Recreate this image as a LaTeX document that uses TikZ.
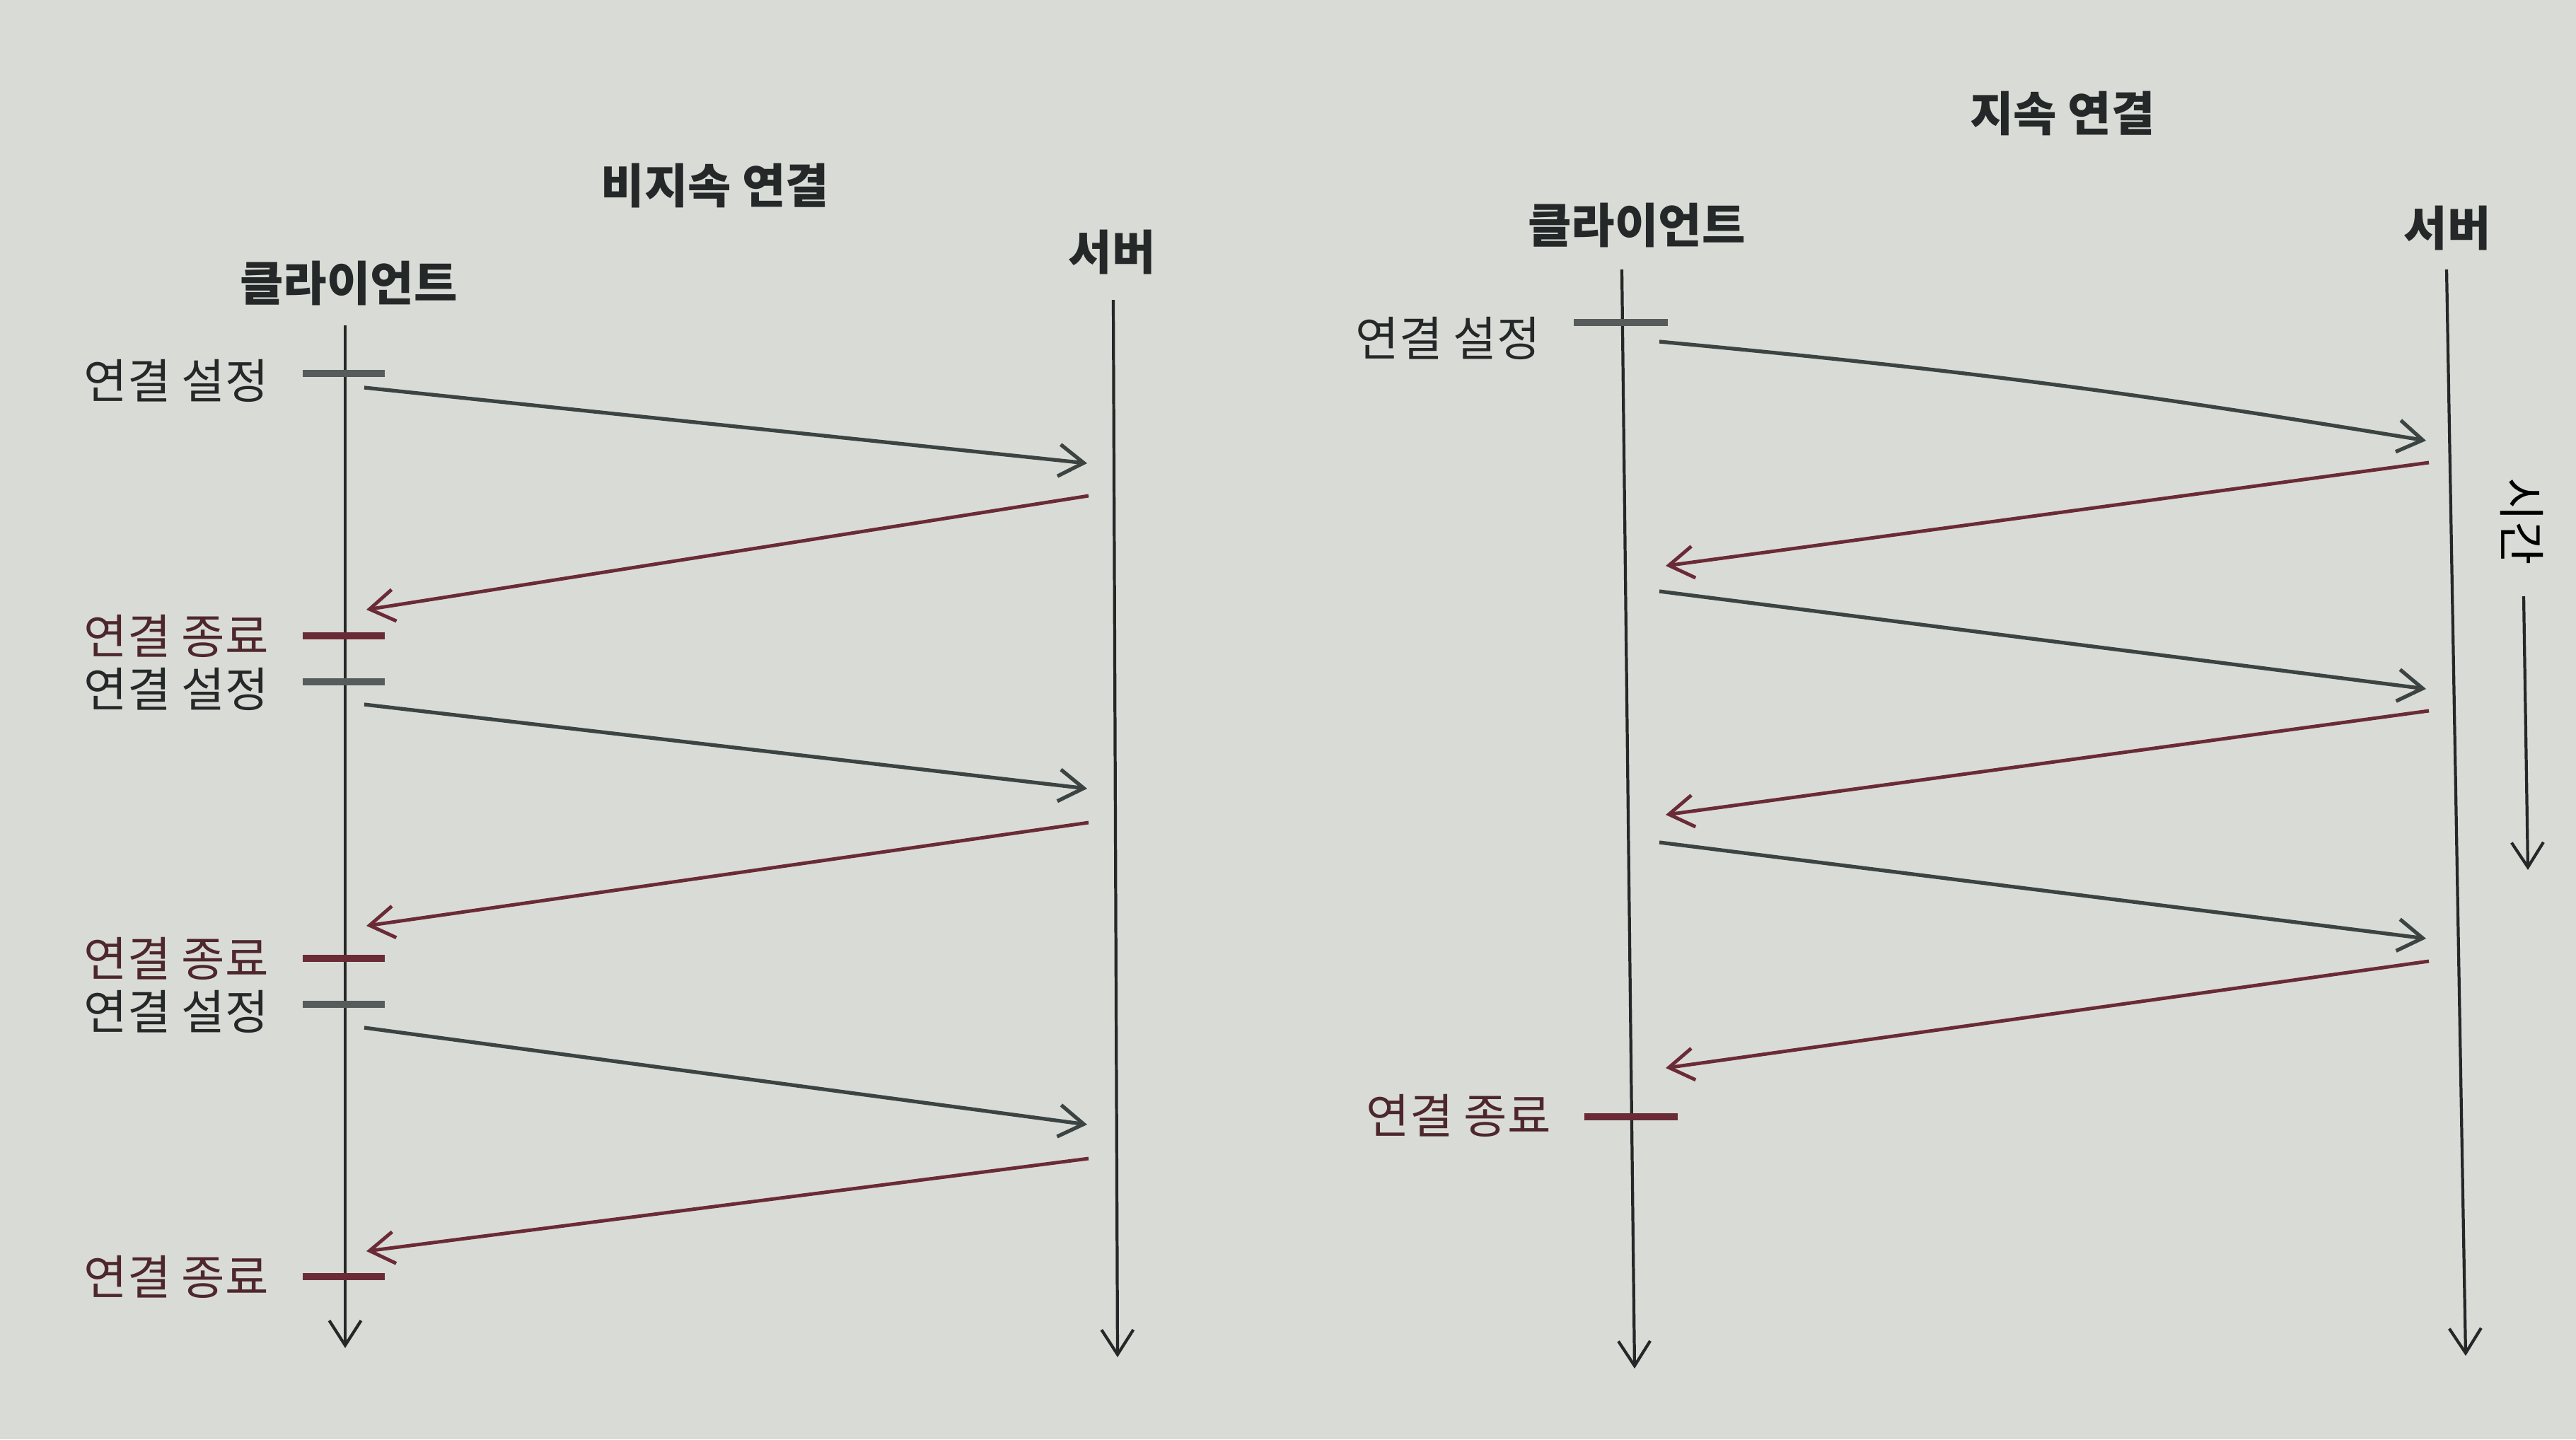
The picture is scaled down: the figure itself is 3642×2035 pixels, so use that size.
\documentclass[tikz,border=0pt]{standalone}
\usepackage{fontspec}
\newfontfamily\kofont{Noto Sans CJK KR}
\usetikzlibrary{arrows.meta}
\definecolor{Paper}{HTML}{D9DCD6}
\definecolor{Ink}{HTML}{242828}
\definecolor{Slate}{HTML}{3C4443}
\definecolor{Fog}{HTML}{565C5B}
\definecolor{Wine}{HTML}{6B2B36}
\definecolor{WineInk}{HTML}{4E272C}

\begin{document}
\begin{tikzpicture}[x=0.01cm,y=-0.01cm,
  font=\kofont\fontsize{19}{22}\selectfont,
  lifeline/.style={Ink,line width=1.2pt,-{Straight Barb[length=3.5mm,width=4.5mm]}},
  request/.style={Slate,line width=1.5pt,-{Straight Barb[length=3.5mm,width=4.5mm]}},
  reply/.style={Wine,line width=1.4pt,-{Straight Barb[length=3.5mm,width=4.5mm]}},
  opentick/.style={Fog,line width=2.6pt},
  closetick/.style={Wine,line width=2.8pt},
  heading/.style={Ink,font=\kofont\bfseries\fontsize{19}{22}\selectfont},
  openlbl/.style={Ink,anchor=east},
  closelbl/.style={WineInk,anchor=east}]
\useasboundingbox (0,0) rectangle (3642,2035);
\fill[Paper] (0,0) rectangle (3642,2035);

% Non-persistent connection: one open/close per request.
\node[heading] (npTitle) at (1011,262) {비지속 연결};
\node[heading] (npClient) at (493,400) {클라이언트};
\node[heading] (npServer) at (1572,356) {서버};
\coordinate (npClientTop) at (488,460);
\coordinate (npClientEnd) at (488,1906);
\coordinate (npServerTop) at (1574,424);
\coordinate (npServerEnd) at (1580,1919);
\draw[lifeline] (npClientTop)--(npClientEnd);
\draw[lifeline] (npServerTop)--(npServerEnd);
\foreach \i/\yo/\ya/\yb/\yc/\yd/\ye in
  {1/528/548/655/701/862/899, 2/964/996/1115/1163/1309/1355,
   3/1420/1453/1590/1638/1769/1805} {
  \coordinate (npOpenL\i) at (428,\yo);
  \coordinate (npOpenR\i) at (544,\yo);
  \coordinate (npReqA\i) at (515,\ya);
  \coordinate (npReqB\i) at (1537,\yb);
  \coordinate (npRepA\i) at (1539,\yc);
  \coordinate (npRepB\i) at (518,\yd);
  \coordinate (npCloseL\i) at (428,\ye);
  \coordinate (npCloseR\i) at (544,\ye);
  \draw[opentick] (npOpenL\i)--(npOpenR\i);
  \draw[closetick] (npCloseL\i)--(npCloseR\i);
  \node[openlbl] (npOpenLbl\i) at (392,\yo+10) {연결 설정};
  \node[closelbl] (npCloseLbl\i) at (392,\ye) {연결 종료};
  \draw[request] (npReqA\i)--(npReqB\i);
  \draw[reply] (npRepA\i)--(npRepB\i);
}

% Persistent connection: one open, many requests, one close.
\node[heading] (pTitle) at (2916,160) {지속 연결};
\node[heading] (pClient) at (2314,318) {클라이언트};
\node[heading] (pServer) at (3460,322) {서버};
\coordinate (pClientTop) at (2293,381);
\coordinate (pClientEnd) at (2311,1935);
\coordinate (pServerTop) at (3459,381);
\coordinate (pServerEnd) at (3486,1917);
\draw[lifeline] (pClientTop)--(pClientEnd);
\draw[lifeline] (pServerTop)--(pServerEnd);
\coordinate (pOpenL) at (2225,456);
\coordinate (pOpenR) at (2358,456);
\draw[opentick] (pOpenL)--(pOpenR);
\node[openlbl] (pOpenLbl) at (2190,478) {연결 설정};
\foreach \i/\ya/\yb/\yc/\yd in
  {1/483/623/654/800, 2/836/974/1005/1152, 3/1191/1327/1359/1510} {
  \coordinate (pReqA\i) at (2346,\ya);
  \coordinate (pReqB\i) at (3430,\yb);
  \coordinate (pRepA\i) at (3434,\yc);
  \coordinate (pRepB\i) at (2355,\yd);
  \draw[reply] (pRepA\i)--(pRepB\i);
}
\draw[request] (pReqA1) to[bend left=2] (pReqB1);
\draw[request] (pReqA2)--(pReqB2);
\draw[request] (pReqA3)--(pReqB3);
\coordinate (pCloseL) at (2240,1579);
\coordinate (pCloseR) at (2372,1579);
\draw[closetick] (pCloseL)--(pCloseR);
\node[closelbl] (pCloseLbl) at (2205,1577) {연결 종료};

% Time axis.
\node[rotate=-90] (timeLbl) at (3565,737) {시간};
\coordinate (timeTop) at (3568,843);
\coordinate (timeEnd) at (3574,1230);
\draw[lifeline] (timeTop)--(timeEnd);
\end{tikzpicture}
\end{document}
